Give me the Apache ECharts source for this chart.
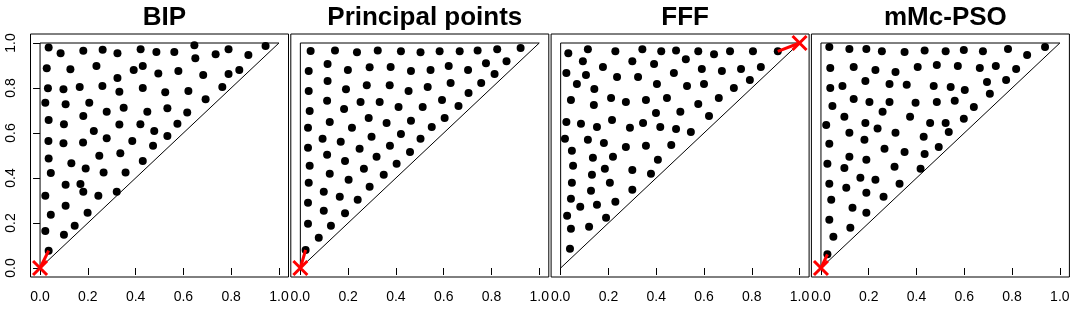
<!DOCTYPE html>
<html>
<head>
<meta charset="utf-8">
<script src="https://cdn.jsdelivr.net/npm/echarts@6/dist/echarts.min.js"></script>
<style>
html,body{margin:0;padding:0;background:#fff;}
#chart{width:1082px;height:315px;}
</style>
</head>
<body>
<div id="chart"></div>
<script>
// ---- data ----
const panelTitles = ["BIP", "Principal points", "FFF", "mMc-PSO"];
const tickValues = [0, 0.2, 0.4, 0.6, 0.8, 1.0];
const triangle = [[0, 0], [0, 1], [1, 1], [0, 0]];
const targetCorners = [[0, 0], [0, 0], [1, 1], [0, 0]];

const bipPoints = [
  [0.036,0.980],[0.086,0.954],[0.181,0.966],[0.262,0.970],[0.324,0.954],[0.421,0.972],[0.487,0.960],
  [0.562,0.960],[0.646,0.990],[0.650,0.932],[0.735,0.950],[0.789,0.972],[0.872,0.947],[0.944,0.987],
  [0.834,0.880],[0.789,0.862],[0.763,0.805],[0.693,0.750],[0.683,0.858],[0.621,0.787],[0.579,0.876],
  [0.616,0.691],[0.575,0.641],[0.533,0.710],[0.524,0.781],[0.495,0.864],[0.430,0.898],[0.392,0.880],
  [0.430,0.800],[0.449,0.694],[0.478,0.609],[0.533,0.587],[0.473,0.543],[0.430,0.476],[0.420,0.639],
  [0.386,0.565],[0.350,0.712],[0.332,0.783],[0.324,0.845],[0.236,0.898],[0.261,0.809],[0.279,0.694],
  [0.332,0.638],[0.279,0.577],[0.225,0.609],[0.336,0.510],[0.358,0.425],[0.248,0.499],[0.266,0.425],
  [0.321,0.339],[0.244,0.321],[0.191,0.442],[0.180,0.558],[0.181,0.676],[0.206,0.734],[0.166,0.805],
  [0.127,0.883],[0.028,0.888],[0.033,0.799],[0.098,0.794],[0.022,0.734],[0.107,0.728],[0.036,0.658],
  [0.100,0.639],[0.035,0.565],[0.098,0.555],[0.036,0.487],[0.131,0.466],[0.045,0.422],[0.107,0.370],
  [0.169,0.373],[0.181,0.339],[0.022,0.321],[0.045,0.237],[0.107,0.277],[0.199,0.246],[0.145,0.188],
  [0.100,0.148],[0.022,0.164],[0.036,0.077]
];

const principalPoints = [
  [0.043,0.964],[0.145,0.967],[0.237,0.959],[0.324,0.967],[0.421,0.963],[0.503,0.959],[0.583,0.963],
  [0.667,0.963],[0.742,0.967],[0.824,0.972],[0.922,0.978],[0.863,0.919],[0.777,0.910],[0.813,0.862],
  [0.702,0.880],[0.621,0.898],[0.545,0.880],[0.463,0.876],[0.378,0.893],[0.290,0.892],[0.199,0.880],
  [0.114,0.907],[0.035,0.876],[0.035,0.787],[0.114,0.831],[0.191,0.794],[0.278,0.812],[0.374,0.812],
  [0.453,0.787],[0.533,0.805],[0.629,0.822],[0.757,0.822],[0.704,0.778],[0.593,0.747],[0.662,0.720],
  [0.512,0.716],[0.411,0.716],[0.332,0.738],[0.252,0.738],[0.112,0.743],[0.183,0.707],[0.039,0.698],
  [0.032,0.623],[0.123,0.649],[0.216,0.623],[0.286,0.667],[0.361,0.645],[0.463,0.654],[0.604,0.667],
  [0.550,0.627],[0.421,0.596],[0.503,0.574],[0.459,0.516],[0.375,0.543],[0.298,0.583],[0.248,0.530],
  [0.169,0.561],[0.093,0.574],[0.032,0.534],[0.112,0.503],[0.187,0.476],[0.266,0.441],[0.319,0.494],
  [0.403,0.463],[0.349,0.414],[0.290,0.361],[0.202,0.392],[0.123,0.419],[0.039,0.454],[0.035,0.379],
  [0.098,0.339],[0.165,0.317],[0.240,0.303],[0.187,0.243],[0.098,0.254],[0.032,0.290],[0.032,0.197],
  [0.128,0.188],[0.077,0.135],[0.022,0.080]
];

const fffPoints = [
  [0.032,0.954],[0.114,0.972],[0.229,0.963],[0.342,0.972],[0.421,0.963],[0.483,0.967],[0.576,0.963],
  [0.642,0.950],[0.709,0.963],[0.805,0.963],[0.909,0.963],[0.093,0.919],[0.177,0.893],[0.300,0.919],
  [0.391,0.907],[0.524,0.928],[0.024,0.867],[0.106,0.858],[0.236,0.849],[0.324,0.849],[0.474,0.867],
  [0.591,0.885],[0.675,0.876],[0.755,0.885],[0.838,0.893],[0.792,0.836],[0.725,0.800],[0.600,0.818],
  [0.529,0.809],[0.403,0.818],[0.068,0.818],[0.141,0.796],[0.043,0.747],[0.139,0.725],[0.211,0.756],
  [0.273,0.738],[0.357,0.747],[0.445,0.756],[0.576,0.729],[0.662,0.756],[0.621,0.676],[0.501,0.694],
  [0.399,0.689],[0.024,0.649],[0.085,0.641],[0.152,0.627],[0.215,0.658],[0.290,0.623],[0.345,0.645],
  [0.417,0.627],[0.483,0.618],[0.545,0.605],[0.018,0.574],[0.114,0.570],[0.181,0.556],[0.273,0.538],
  [0.357,0.543],[0.463,0.547],[0.047,0.521],[0.135,0.490],[0.219,0.494],[0.407,0.481],[0.052,0.454],
  [0.185,0.441],[0.300,0.436],[0.378,0.419],[0.131,0.414],[0.047,0.379],[0.206,0.379],[0.127,0.343],
  [0.300,0.348],[0.043,0.308],[0.082,0.272],[0.152,0.281],[0.229,0.294],[0.027,0.232],[0.190,0.223],
  [0.043,0.175],[0.119,0.183],[0.039,0.086]
];

const mmcPsoPoints = [
  [0.035,0.982],[0.119,0.973],[0.190,0.973],[0.255,0.963],[0.350,0.960],[0.434,0.967],[0.522,0.963],
  [0.598,0.969],[0.678,0.963],[0.783,0.973],[0.863,0.947],[0.938,0.982],[0.817,0.885],[0.732,0.898],
  [0.665,0.889],[0.573,0.898],[0.485,0.902],[0.405,0.893],[0.312,0.871],[0.228,0.880],[0.137,0.893],
  [0.039,0.889],[0.039,0.800],[0.090,0.809],[0.186,0.831],[0.287,0.818],[0.359,0.814],[0.472,0.809],
  [0.543,0.805],[0.602,0.791],[0.695,0.827],[0.775,0.836],[0.707,0.774],[0.640,0.716],[0.560,0.743],
  [0.485,0.738],[0.396,0.734],[0.287,0.738],[0.203,0.738],[0.137,0.751],[0.048,0.720],[0.258,0.695],
  [0.098,0.672],[0.373,0.672],[0.457,0.645],[0.522,0.645],[0.598,0.663],[0.535,0.605],[0.430,0.583],
  [0.312,0.601],[0.237,0.620],[0.186,0.645],[0.119,0.601],[0.022,0.636],[0.182,0.570],[0.035,0.552],
  [0.266,0.530],[0.350,0.516],[0.434,0.507],[0.493,0.538],[0.417,0.441],[0.308,0.450],[0.228,0.392],
  [0.165,0.401],[0.190,0.481],[0.119,0.494],[0.098,0.445],[0.027,0.463],[0.035,0.374],[0.106,0.357],
  [0.190,0.334],[0.262,0.317],[0.329,0.374],[0.043,0.303],[0.132,0.268],[0.190,0.246],[0.035,0.214],
  [0.123,0.179],[0.052,0.139],[0.027,0.061]
];

const panelPoints = [bipPoints, principalPoints, fffPoints, mmcPsoPoints];

// ---- layout ----
const FONT = "'Liberation Sans', Arial, sans-serif";
const gridLeft0 = 30.5, gridStep = 260.3, gridW = 258, gridTop = 34, gridH = 243;

function nearest(pts, c) {
  let best = pts[0], bd = Infinity;
  pts.forEach(p => {
    const d = (p[0]-c[0])**2 + (p[1]-c[1])**2;
    if (d < bd) { bd = d; best = p; }
  });
  return best;
}

const grids = [], xAxes = [], yAxes = [], series = [], titles = [];
const fmt = v => Number(v).toFixed(1);
const xSym = 'path://M0,0L10,10M10,0L0,10';

panelTitles.forEach((t, i) => {
  const left = gridLeft0 + i * gridStep;
  grids.push({ left: left, top: gridTop, width: gridW, height: gridH,
    show: true, borderColor: '#000', borderWidth: 1, backgroundColor: 'transparent', containLabel: false });
  xAxes.push({ type: 'value', gridIndex: i, min: -0.04, max: 1.04,
    axisLine: { show: false }, splitLine: { show: false },
    axisTick: { show: true, length: 7, lineStyle: { color: '#000', width: 1 }, customValues: tickValues },
    axisLabel: { show: true, customValues: tickValues, formatter: fmt, color: '#000',
      fontFamily: FONT, fontSize: 14, margin: 13 } });
  yAxes.push({ type: 'value', gridIndex: i, min: -0.04, max: 1.04, show: i === 0,
    axisLine: { show: false }, splitLine: { show: false },
    axisTick: { show: i === 0, length: 7, lineStyle: { color: '#000', width: 1 }, customValues: tickValues },
    axisLabel: { show: i === 0, customValues: tickValues, formatter: fmt, color: '#000', rotate: 90,
      fontFamily: FONT, fontSize: 14, margin: 12 } });
  titles.push({ text: t, left: left + gridW / 2, textAlign: 'center', top: 0,
    textStyle: { fontFamily: FONT, fontWeight: 'bold', fontSize: 26, color: '#000' } });

  const pts = panelPoints[i];
  const corner = targetCorners[i];
  series.push({ type: 'line', xAxisIndex: i, yAxisIndex: i, data: triangle, symbol: 'none',
    lineStyle: { color: '#000', width: 1 }, silent: true, animation: false, z: 2 });
  series.push({ type: 'scatter', xAxisIndex: i, yAxisIndex: i, data: pts, symbol: 'circle', symbolSize: 8,
    itemStyle: { color: '#000', opacity: 1 }, silent: true, animation: false, z: 3 });
  series.push({ type: 'line', xAxisIndex: i, yAxisIndex: i, data: [corner, nearest(pts, corner)], symbol: 'none',
    lineStyle: { color: '#ff0000', width: 3 }, silent: true, animation: false, z: 4 });
  series.push({ type: 'scatter', xAxisIndex: i, yAxisIndex: i, data: [corner], symbol: xSym, symbolSize: 14,
    itemStyle: { color: 'none', borderColor: '#ff0000', borderWidth: 3, opacity: 1 }, silent: true, animation: false, z: 5 });
});

const chart = echarts.init(document.getElementById('chart'), null, { renderer: 'canvas' });
chart.setOption({
  backgroundColor: '#fff',
  animation: false,
  title: titles,
  grid: grids,
  xAxis: xAxes,
  yAxis: yAxes,
  series: series
});
</script>
</body>
</html>
